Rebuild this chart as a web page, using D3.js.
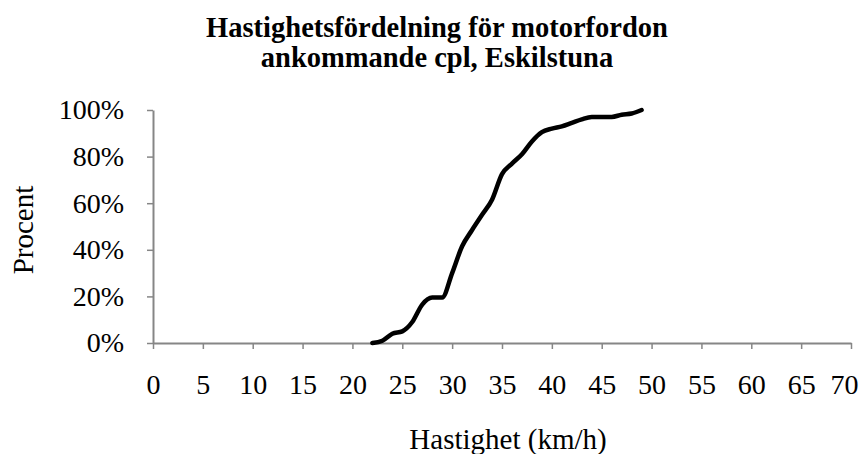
<!DOCTYPE html>
<html>
<head>
<meta charset="utf-8">
<script src="https://cdn.jsdelivr.net/npm/d3@7"></script>
<style>
  body { margin: 0; background: #fff; }
  text { font-family: "Liberation Serif", "Times New Roman", serif; fill: #000; }
</style>
</head>
<body>
<div id="wrapper"></div>
<script>
// speed (km/h) and cumulative share (%)
const speeds = [22, 23, 24, 25, 26, 27, 28, 29, 30, 31, 32, 33, 34, 35, 36, 37, 38, 39, 40, 41, 42, 43, 44, 45, 46, 47, 48, 49];
const percent = [0, 1, 4, 5, 9, 16.5, 19.5, 19.5, 30, 41.5, 48.5, 55, 61.5, 72.5, 77, 81, 86.5, 90.5, 92, 93, 94.5, 96, 97, 97, 97, 98, 98.5, 100];
const xTicks = [0, 5, 10, 15, 20, 25, 30, 35, 40, 45, 50, 55, 60, 65, 70];
const yTicks = [0, 20, 40, 60, 80, 100];
const titleLines = ['Hastighetsfördelning för motorfordon', 'ankommande cpl, Eskilstuna'];

function drawChart() {
    const data = speeds.map((s, i) => ({ speed: s, value: percent[i] }));

    // 1. Dimensions
    const dimensions = {
        width: 862,
        height: 454,
        margin: { top: 110, right: 11, bottom: 111, left: 153 },
    };
    dimensions.boundedWidth = dimensions.width - dimensions.margin.left - dimensions.margin.right;
    dimensions.boundedHeight = dimensions.height - dimensions.margin.top - dimensions.margin.bottom;

    // 2. Canvas
    const wrapper = d3.select('#wrapper')
        .append('svg')
        .attr('width', dimensions.width)
        .attr('height', dimensions.height);

    const bounds = wrapper.append('g')
        .attr('transform', `translate(${dimensions.margin.left},${dimensions.margin.top})`);

    // 3. Scales
    const xScale = d3.scaleLinear()
        .domain([0, 70])
        .range([0, dimensions.boundedWidth]);

    const yScale = d3.scaleLinear()
        .domain([0, 100])
        .range([dimensions.boundedHeight, 0]);

    // 4. Axes
    const axisColor = '#868686';

    const xAxis = bounds.append('g')
        .attr('transform', `translate(0,${dimensions.boundedHeight})`)
        .call(d3.axisBottom(xScale).tickValues(xTicks).tickSize(6).tickSizeOuter(0).tickPadding(25));
    xAxis.select('.domain').attr('stroke', axisColor).attr('stroke-width', 2);
    xAxis.selectAll('.tick line').attr('stroke', axisColor).attr('stroke-width', 1.5);
    xAxis.selectAll('.tick text')
        .attr('font-family', '"Liberation Serif", serif')
        .attr('font-size', 28)
        .attr('fill', '#000');
    // keep the last label inside the frame
    xAxis.selectAll('.tick text')
        .filter(d => d === xTicks[xTicks.length - 1])
        .attr('text-anchor', 'end')
        .attr('x', 7);

    const yAxis = bounds.append('g')
        .call(d3.axisLeft(yScale).tickValues(yTicks).tickSize(6).tickSizeOuter(0).tickPadding(23)
            .tickFormat(d => d + '%'));
    yAxis.select('.domain').attr('stroke', axisColor).attr('stroke-width', 2);
    yAxis.selectAll('.tick line').attr('stroke', axisColor).attr('stroke-width', 1.5);
    yAxis.selectAll('.tick text')
        .attr('font-family', '"Liberation Serif", serif')
        .attr('font-size', 28)
        .attr('fill', '#000');

    // 5. Line
    const lineGenerator = d3.line()
        .x(d => xScale(d.speed))
        .y(d => yScale(d.value))
        .curve(d3.curveMonotoneX);

    bounds.append('path')
        .attr('d', lineGenerator(data))
        .attr('fill', 'none')
        .attr('stroke', '#000')
        .attr('stroke-width', 4.5)
        .attr('stroke-linejoin', 'round')
        .attr('stroke-linecap', 'round');

    // 6. Title and axis labels
    wrapper.append('g')
        .selectAll('text')
        .data(titleLines)
        .join('text')
        .attr('x', 437)
        .attr('y', (d, i) => 37 + i * 30)
        .attr('text-anchor', 'middle')
        .attr('font-size', 28.5)
        .attr('font-weight', 'bold')
        .text(d => d);

    wrapper.append('text')
        .attr('transform', 'translate(33,230) rotate(-90)')
        .attr('text-anchor', 'middle')
        .attr('font-size', 29)
        .text('Procent');

    wrapper.append('text')
        .attr('x', 508)
        .attr('y', 449)
        .attr('text-anchor', 'middle')
        .attr('font-size', 29)
        .text('Hastighet (km/h)');
}

drawChart();
</script>
</body>
</html>
